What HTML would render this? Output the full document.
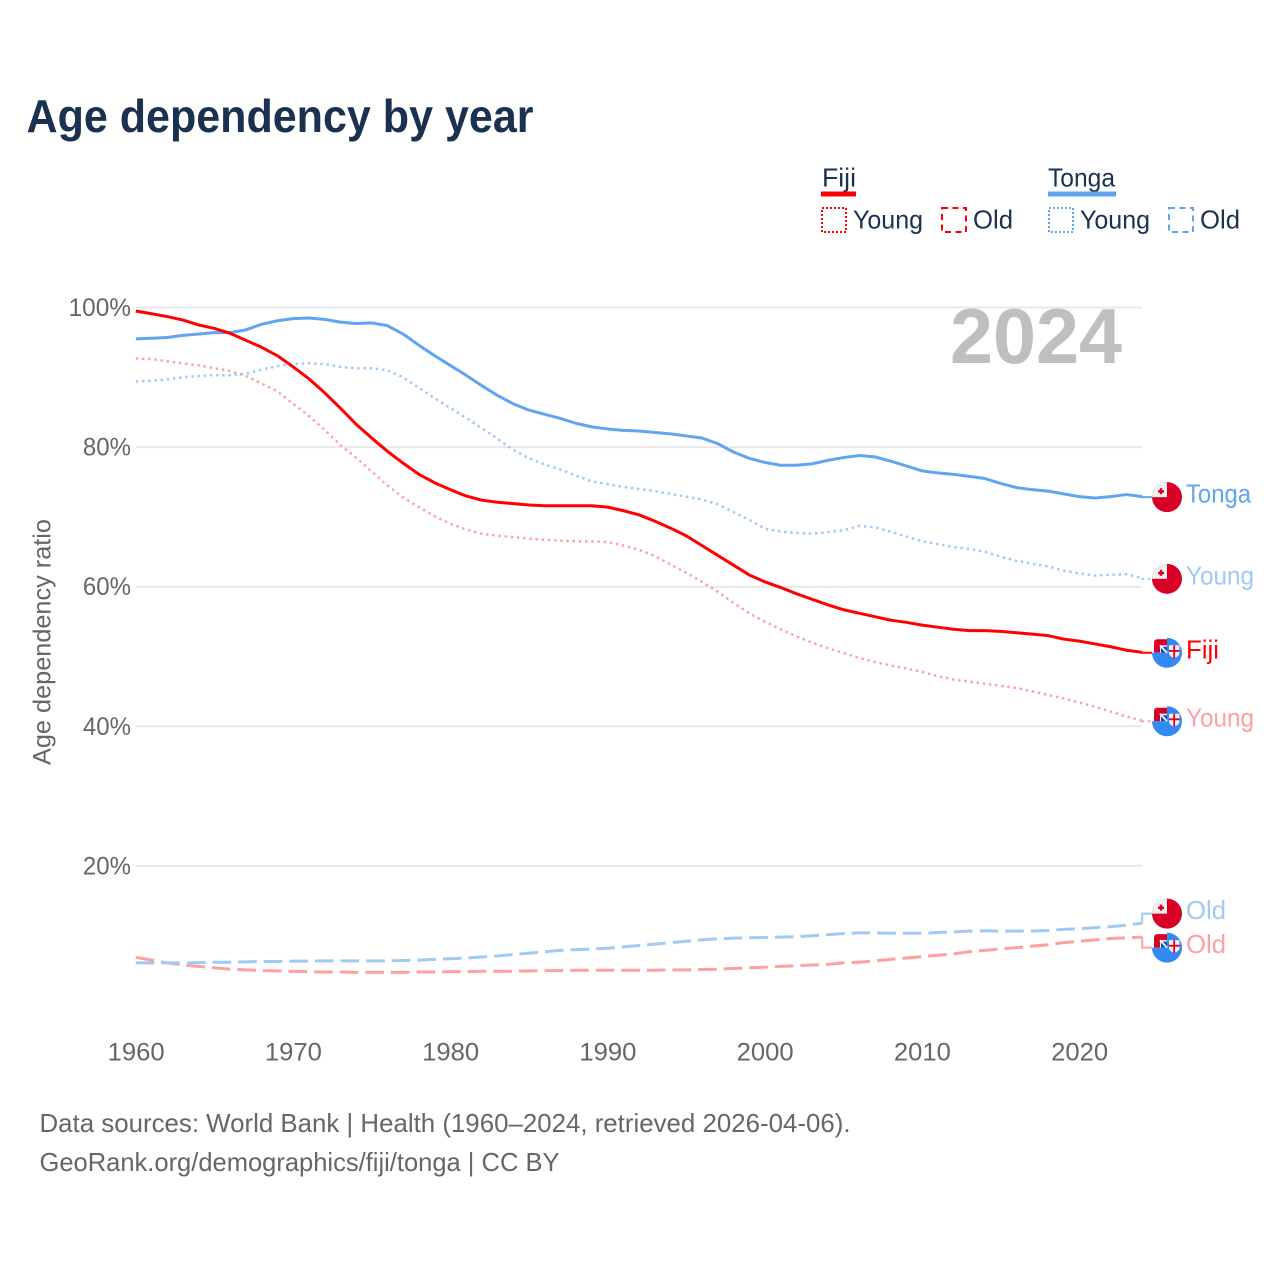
<!DOCTYPE html>
<html lang="en">
<head>
<meta charset="utf-8">
<title>Age dependency by year</title>
<style>
html,body{margin:0;padding:0;background:#fff}
svg{display:block}
text{font-family:"Liberation Sans",sans-serif}
</style>
</head>
<body>
<svg id="chart" xmlns="http://www.w3.org/2000/svg" width="1280" height="1280" viewBox="0 0 1280 1280">
  <defs>
    <clipPath id="flag-clip"><circle cx="0" cy="0" r="15"/></clipPath>
  </defs>
  <rect x="0" y="0" width="1280" height="1280" fill="#fff"/>
  <text x="26.5" y="132" font-size="46" font-weight="700" fill="#1a3150" textLength="507" lengthAdjust="spacingAndGlyphs">Age dependency by year</text>

  <g font-size="26" fill="#1a3150">
    <text x="822" y="186.5" textLength="34" lengthAdjust="spacingAndGlyphs">Fiji</text>
    <rect x="821" y="191.5" width="35" height="5" fill="#ff0000"/>
    <rect x="822" y="208" width="24" height="24" fill="none" stroke="#ff0000" stroke-width="2" stroke-dasharray="2 2"/>
    <text x="853" y="228.5" textLength="70" lengthAdjust="spacingAndGlyphs">Young</text>
    <rect x="942" y="208" width="24" height="24" fill="none" stroke="#ff0000" stroke-width="2" stroke-dasharray="6 4.5"/>
    <text x="973" y="228.5" textLength="40" lengthAdjust="spacingAndGlyphs">Old</text>
    <text x="1048" y="186.5" textLength="67" lengthAdjust="spacingAndGlyphs">Tonga</text>
    <rect x="1048" y="191.5" width="68" height="5" fill="#60a5ee"/>
    <rect x="1049" y="208" width="24" height="24" fill="none" stroke="#60a5ee" stroke-width="2" stroke-dasharray="2 2"/>
    <text x="1080" y="228.5" textLength="70" lengthAdjust="spacingAndGlyphs">Young</text>
    <rect x="1169" y="208" width="24" height="24" fill="none" stroke="#60a5ee" stroke-width="2" stroke-dasharray="6 4.5"/>
    <text x="1200" y="228.5" textLength="40" lengthAdjust="spacingAndGlyphs">Old</text>
  </g>

  <text transform="translate(50.5,642) rotate(-90)" text-anchor="middle" font-size="25" fill="#666" textLength="246" lengthAdjust="spacingAndGlyphs">Age dependency ratio</text>

  <g id="grid"></g>
  <g id="y-ticks"></g>
  <g id="x-ticks"></g>

  <text x="950" y="363" font-size="78" font-weight="700" fill="#bfbfbf" textLength="172" lengthAdjust="spacingAndGlyphs">2024</text>

  <g id="series"></g>
  <g id="labels"></g>

  <text x="39.5" y="1132" font-size="26" fill="#666" textLength="811" lengthAdjust="spacingAndGlyphs">Data sources: World Bank | Health (1960–2024, retrieved 2026-04-06).</text>
  <text x="39.5" y="1171" font-size="26" fill="#666" textLength="520" lengthAdjust="spacingAndGlyphs">GeoRank.org/demographics/fiji/tonga | CC BY</text>
</svg>
<script>
var startYear = 1960;
var xTickLabels = [1960, 1970, 1980, 1990, 2000, 2010, 2020];
var yTickLabels = [20, 40, 60, 80, 100];

var fijiTotal = [
  99.5,99.1,98.7,98.2,97.5,97.0,96.3,95.3,94.3,93.1,
  91.5,89.8,87.8,85.6,83.3,81.3,79.4,77.7,76.1,74.9,
  73.9,73.0,72.4,72.1,71.9,71.7,71.6,71.6,71.6,71.6,
  71.4,70.9,70.3,69.4,68.4,67.3,65.9,64.5,63.1,61.7,
  60.7,59.9,59.0,58.2,57.4,56.7,56.2,55.7,55.2,54.9,
  54.5,54.2,53.9,53.7,53.7,53.6,53.4,53.2,53.0,52.5,
  52.2,51.8,51.4,50.9,50.6];
var fijiYoung = [
  92.7,92.6,92.3,92.0,91.7,91.3,90.9,90.2,89.1,88.0,
  86.2,84.5,82.5,80.3,78.5,76.5,74.5,72.8,71.4,70.1,
  69.0,68.2,67.6,67.3,67.1,66.9,66.7,66.6,66.5,66.5,
  66.4,65.9,65.3,64.4,63.2,62.0,60.7,59.3,57.7,56.2,
  55.0,53.9,52.9,52.0,51.2,50.5,49.8,49.2,48.7,48.3,
  47.8,47.2,46.7,46.4,46.1,45.8,45.5,45.0,44.5,44.0,
  43.4,42.8,42.1,41.4,40.8];
var fijiOld = [
  6.9,6.5,6.1,5.8,5.6,5.4,5.2,5.1,5.0,4.95,
  4.9,4.85,4.8,4.8,4.75,4.75,4.75,4.75,4.8,4.8,
  4.85,4.85,4.9,4.9,4.9,4.95,5.0,5.0,5.05,5.05,
  5.05,5.05,5.05,5.05,5.1,5.1,5.15,5.2,5.3,5.4,
  5.5,5.6,5.7,5.8,5.9,6.1,6.2,6.4,6.6,6.8,
  7.0,7.2,7.4,7.7,7.9,8.1,8.3,8.5,8.7,9.0,
  9.2,9.4,9.6,9.7,9.8];
var tongaTotal = [
  95.5,95.6,95.7,96.0,96.2,96.4,96.4,96.8,97.6,98.1,
  98.4,98.5,98.3,97.9,97.7,97.8,97.4,96.2,94.6,93.1,
  91.7,90.3,88.8,87.4,86.2,85.3,84.7,84.1,83.4,82.9,
  82.6,82.4,82.3,82.1,81.9,81.6,81.3,80.5,79.3,78.4,
  77.8,77.4,77.4,77.6,78.1,78.5,78.8,78.6,78.0,77.3,
  76.6,76.3,76.1,75.8,75.5,74.8,74.2,73.9,73.7,73.3,
  72.9,72.7,72.9,73.2,72.9];
var tongaYoung = [
  89.4,89.5,89.7,90.0,90.2,90.3,90.3,90.5,91.1,91.6,
  91.9,92.0,91.9,91.5,91.3,91.3,91.0,90.0,88.5,87.0,
  85.6,84.2,82.7,81.2,79.6,78.4,77.5,76.8,75.9,75.1,
  74.7,74.3,74.0,73.7,73.3,72.9,72.5,71.8,70.7,69.6,
  68.3,67.9,67.7,67.6,67.8,68.1,68.7,68.5,67.9,67.2,
  66.5,66.1,65.7,65.4,65.0,64.3,63.7,63.3,62.9,62.3,
  61.9,61.6,61.7,61.8,61.2];
var tongaOld = [
  6.1,6.1,6.1,6.1,6.15,6.2,6.2,6.25,6.3,6.3,
  6.35,6.35,6.4,6.4,6.4,6.4,6.4,6.45,6.5,6.6,
  6.7,6.8,6.95,7.1,7.3,7.5,7.7,7.9,8.0,8.1,
  8.2,8.4,8.6,8.8,9.0,9.2,9.4,9.55,9.65,9.7,
  9.75,9.8,9.85,10.0,10.15,10.3,10.4,10.4,10.35,10.35,
  10.35,10.45,10.55,10.65,10.7,10.65,10.65,10.65,10.75,10.9,
  11.0,11.15,11.3,11.5,11.8];

var NS = 'http://www.w3.org/2000/svg';
function xScale(year) { return 135.8 + (year - 1960) * 15.725; }
function yScale(value) { return 1005.5 - value * 6.98; }
function make(tag, attrs, parent) {
  var el = document.createElementNS(NS, tag);
  for (var k in attrs) { el.setAttribute(k, attrs[k]); }
  parent.appendChild(el);
  return el;
}

var gridGroup = document.getElementById('grid');
var yTickGroup = document.getElementById('y-ticks');
var xTickGroup = document.getElementById('x-ticks');
var seriesGroup = document.getElementById('series');
var labelGroup = document.getElementById('labels');
var lastX = xScale(startYear + fijiTotal.length - 1);

yTickLabels.forEach(function (t) {
  var line = make('line', {x1: xScale(startYear), x2: lastX, y1: yScale(t), y2: yScale(t), stroke: '#e9e9e9', 'stroke-width': 2}, gridGroup);
  
  
  var s = t + '%';
  var label = make('text', {x: 131, y: yScale(t) + 8.5, 'text-anchor': 'end', 'font-size': 25, fill: '#666', textLength: (s.length - 1) * 14.3 + 19.5, lengthAdjust: 'spacingAndGlyphs'}, yTickGroup);
  label.textContent = s;
  
  
});

xTickLabels.forEach(function (t) {
  var label = make('text', {x: xScale(t) + 0.3, y: 1060.5, 'text-anchor': 'middle', 'font-size': 25, fill: '#666', textLength: 57, lengthAdjust: 'spacingAndGlyphs'}, xTickGroup);
  label.textContent = t;
  
  
});

var seriesList = [
  {key: 'fiji-young', values: fijiYoung, color: '#ffa0a0', dash: '2.4 3.8', width: 2.5, label: 'Young', flag: 'fiji', labelW: 68},
  {key: 'tonga-young', values: tongaYoung, color: '#a0c9f4', dash: '2.4 3.8', width: 2.5, label: 'Young', flag: 'tonga', labelW: 68},
  {key: 'fiji-old', values: fijiOld, color: '#ffa0a0', dash: '18.6 7', width: 3, label: 'Old', flag: 'fiji', labelW: 40},
  {key: 'tonga-old', values: tongaOld, color: '#a0c9f4', dash: '18.6 7', width: 3, label: 'Old', flag: 'tonga', labelW: 40},
  {key: 'tonga-total', values: tongaTotal, color: '#60a5ee', dash: 'none', width: 3, label: 'Tonga', flag: 'tonga', labelW: 65},
  {key: 'fiji-total', values: fijiTotal, color: '#ff0000', dash: 'none', width: 3, label: 'Fiji', flag: 'fiji', labelW: 33}
];

function linePath(values) {
  return values.map(function (v, i) {
    return (i ? 'L' : 'M') + xScale(startYear + i).toFixed(2) + ' ' + yScale(v).toFixed(2);
  }).join(' ');
}

seriesList.forEach(function (s) {
  var path = make('path', {d: linePath(s.values), fill: 'none', stroke: s.color, 'stroke-width': s.width, 'stroke-dasharray': s.dash, 'stroke-linejoin': 'round'}, seriesGroup);
  
  
});

// Separate end labels that would collide, pushing each pair apart symmetrically.
var placed = seriesList.map(function (s) {
  var y = yScale(s.values[s.values.length - 1]);
  return {s: s, endY: y, y: y};
}).sort(function (a, b) { return a.endY - b.endY; });
for (var i = 1; i < placed.length; i++) {
  var gap = placed[i].y - placed[i - 1].y;
  if (gap < 34) {
    var push = (34 - gap) / 2;
    placed[i].y += push;
    placed[i - 1].y -= push;
  }
}

function drawTongaFlag(g) {
  make('circle', {cx: 0, cy: 0, r: 15, fill: '#d80027'}, g);
  var inner = make('g', {'clip-path': 'url(#flag-clip)'}, g);
  make('rect', {x: -15, y: -15, width: 15, height: 15, fill: '#f0f0f0'}, inner);
  make('rect', {x: -9, y: -7, width: 6, height: 2.4, fill: '#d80027'}, inner);
  make('rect', {x: -7.2, y: -9, width: 2.4, height: 6, fill: '#d80027'}, inner);
}
function drawFijiFlag(g) {
  make('path', {d: 'M-13 0V-10Q-13 -13.5 -9.5 -13.5H0V0Z', fill: '#d80027'}, g);
  make('path', {d: 'M0 -15A15 15 0 1 1 -15 0H0Z', fill: '#338af3'}, g);
  make('rect', {x: -7, y: -7.5, width: 7, height: 7.5, fill: '#f0f0f0'}, g);
  make('rect', {x: -6, y: -6, width: 6, height: 6, fill: '#0052b4'}, g);
  make('path', {d: 'M-7 -7.5L0 0', stroke: '#f0f0f0', 'stroke-width': 2}, g);
  make('path', {d: 'M2 -7.5H12.5V0Q12.5 3.5 7.2 5.5Q2 3.5 2 0Z', fill: '#f0f0f0'}, g);
  make('rect', {x: 6.3, y: -7.5, width: 1.8, height: 13, fill: '#d80027'}, g);
  make('rect', {x: 2, y: -2.8, width: 10.5, height: 1.8, fill: '#d80027'}, g);
}

placed.forEach(function (p) {
  var s = p.s;
  var connector = make('path', {d: 'M' + lastX + ' ' + p.endY + ' V' + (p.y + 0.5) + ' H1152', fill: 'none', stroke: s.color, 'stroke-width': 2, 'stroke-dasharray': s.width === 2.5 ? s.dash : 'none'}, labelGroup);
  
  

  var flag = make('g', {transform: 'translate(1167,' + (p.y + 0.5).toFixed(2) + ')'}, labelGroup);
  
  
  if (s.flag === 'fiji') { drawFijiFlag(flag); } else { drawTongaFlag(flag); }

  var text = make('text', {x: 1186, y: p.y + 6, 'font-size': 26, fill: s.color, textLength: s.labelW, lengthAdjust: 'spacingAndGlyphs'}, labelGroup);
  text.textContent = s.label;
  
  
});
</script>
</body>
</html>
